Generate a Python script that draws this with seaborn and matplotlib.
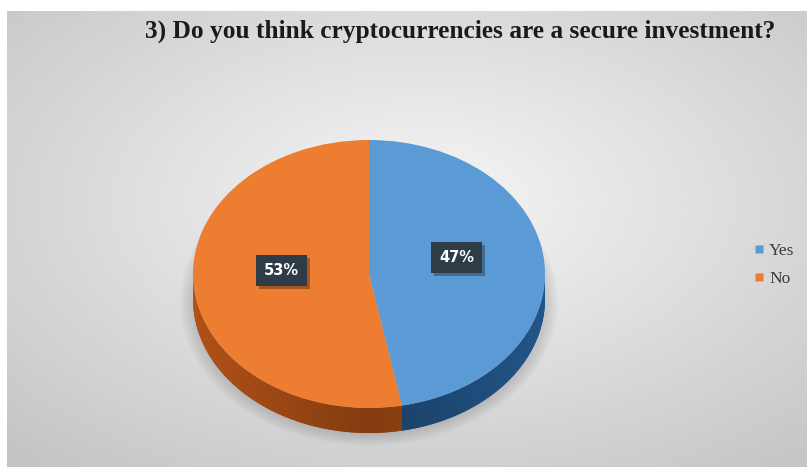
import numpy as np
import matplotlib
matplotlib.use("Agg")
import matplotlib.pyplot as plt
import matplotlib.patheffects as pe
from matplotlib.patches import Polygon, Ellipse
from matplotlib.lines import Line2D
from matplotlib.colors import to_rgb
import seaborn as sns

# ---------------- data ----------------
categories = ["Yes", "No"]
values = [47, 53]
title = "3) Do you think cryptocurrencies are a secure investment?"

sns.set_style("white")
plt.rcParams['font.family'] = ['DejaVu Sans']

top_colors = ["#5B9BD5", "#ED7D31"]
side_colors = ["#1E4A76", "#9A4714"]

W, H = 807, 467
fig = plt.figure(figsize=(W / 100, H / 100), dpi=100)
fig.patch.set_facecolor("white")

# ---------------- background gradient ----------------
bg = fig.add_axes([7 / W, 0, 1 - 7 / W, 1 - 11 / H])
yy, xx = np.mgrid[0:1:300j, 0:1:500j]
r = np.sqrt((xx - 0.52) ** 2 + (yy - 0.42) ** 2)
g = np.clip(0.965 - 0.26 * r, 0, 1)
bg.imshow(g, cmap="gray", vmin=0, vmax=1, aspect="auto", extent=(0, 1, 1, 0))
bg.axis("off")

# ---------------- pie axes ----------------
cx, cy, rx, ry = 369, 274, 176, 134
xl = (-1.1, 1.1)
yl = (-1.35, 1.1)
left = (cx + xl[0] * rx) / W
width = (xl[1] - xl[0]) * rx / W
top_px = cy - yl[1] * ry
bottom_px = cy - yl[0] * ry
ax = fig.add_axes([left, 1 - bottom_px / H, width, (bottom_px - top_px) / H])
ax.patch.set_alpha(0)

depth = 25 / ry

# soft shadow under the pie
for i in range(8):
    s = 0.99 + 0.012 * i
    ax.add_patch(Ellipse((0.0, -depth - 0.02), 2 * s, 2 * s, facecolor="black",
                         edgecolor="none", alpha=0.018, zorder=0.1))

# pie sides (3D depth), shaded by a clipped gradient image
fracs = np.array(values, dtype=float) / sum(values)
start = 90.0
gx = np.linspace(-1, 1, 400)
for frac, col in zip(fracs, side_colors):
    end = start - 360 * frac
    th = np.deg2rad(np.linspace(start, end, 600))
    th = th[np.sin(th) <= 1e-9]
    if len(th) > 1:
        top_edge = np.column_stack([np.cos(th), np.sin(th)])
        bot_edge = np.column_stack([np.cos(th[::-1]), np.sin(th[::-1]) - depth])
        poly = Polygon(np.vstack([top_edge, bot_edge]), closed=True, facecolor=col,
                       edgecolor="none", zorder=0.9)
        ax.add_patch(poly)
        base = np.array(to_rgb(col))
        shade = 0.85 + 0.3 * np.abs(gx)
        img = np.clip(base[None, None, :] * shade[None, :, None], 0, 1)
        img = np.repeat(img, 2, axis=0)
        im = ax.imshow(img, extent=(-1, 1, -1 - depth - 0.01, 0.01), aspect="auto",
                       zorder=0.95, interpolation="bilinear")
        im.set_clip_path(poly)
    start = end

wedges, texts, autotexts = ax.pie(values, colors=top_colors, startangle=90, counterclock=False,
                                  radius=1, center=(0, 0), autopct=lambda p: f"{p:.0f}%",
                                  pctdistance=0.5, frame=True,
                                  wedgeprops=dict(linewidth=0))
ax.set_aspect("auto")
ax.set_xlim(xl)
ax.set_ylim(yl)
ax.axis("off")

for t in autotexts:
    t.set_y(t.get_position()[1] + 0.075)
    t.set_color("white")
    t.set_fontweight("bold")
    t.set_fontsize(10.5)
    t.set_bbox(dict(boxstyle="square,pad=0.55", facecolor="#2F3B46", edgecolor="none"))
    t.get_bbox_patch().set_path_effects([pe.withSimplePatchShadow(offset=(2, -2), shadow_rgbFace="black", alpha=0.3)])

# ---------------- legend ----------------
handles = [Line2D([0], [0], marker="s", linestyle="none", markersize=6,
                  markerfacecolor=c, markeredgecolor="none") for c in top_colors]
fig.legend(handles, categories, loc="center left", bbox_to_anchor=(738 / W, 1 - 265 / H),
           frameon=False, prop=dict(family="Liberation Serif", size=12.5),
           handlelength=0.6, handletextpad=0.3, labelspacing=0.7, labelcolor="#3a3a3a")

# ---------------- title ----------------
fig.text(460 / W, 1 - 31 / H, title, ha="center", va="center", fontfamily="Liberation Serif",
         fontweight="bold", fontsize=18.3, color="#1a1a1a")

fig.savefig("out.png", dpi=100)
